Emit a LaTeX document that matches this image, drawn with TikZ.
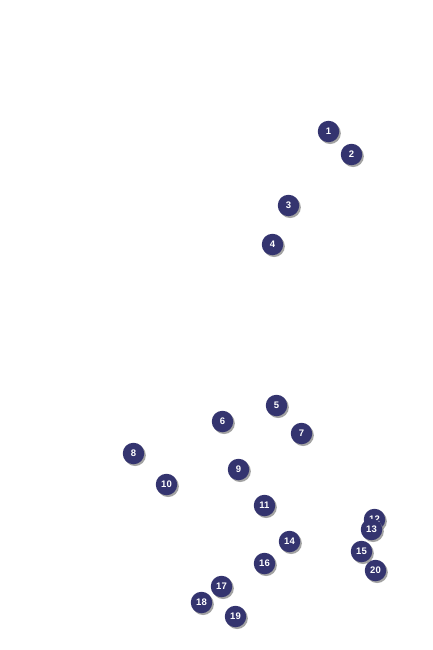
\documentclass[tikz,border=0pt]{standalone}
\usepackage{fontspec}
\setmainfont{Liberation Sans}
\usetikzlibrary{shadows}
\definecolor{badgeblue}{HTML}{34346F}
\begin{document}
\begin{tikzpicture}[x=1pt,y=-1pt,badge/.style={circle,fill=badgeblue,draw=none,minimum size=21.5pt,inner sep=0pt,text=white,font=\fontsize{9.5}{11}\selectfont\bfseries,drop shadow={shadow xshift=1.6pt,shadow yshift=-1.8pt,fill=black!45,opacity=0.8}}]
\useasboundingbox[fill=white] (0,0) rectangle (433,650);
\node[badge] (n1) at (328.5,131.5) {1};
\node[badge] (n2) at (351.5,154.5) {2};
\node[badge] (n3) at (288.5,205.5) {3};
\node[badge] (n4) at (272.5,244.5) {4};
\node[badge] (n5) at (276.5,405.5) {5};
\node[badge] (n6) at (222.5,421.5) {6};
\node[badge] (n7) at (301.5,433.5) {7};
\node[badge] (n8) at (133.5,453.5) {8};
\node[badge] (n9) at (238.5,469.5) {9};
\node[badge] (n10) at (166.5,484.5) {10};
\node[badge] (n11) at (264.5,505.5) {11};
\node[badge] (n12) at (374.5,519.5) {12};
\node[badge] (n13) at (371.5,529.5) {13};
\node[badge] (n14) at (289.5,541.5) {14};
\node[badge] (n15) at (361.5,551.5) {15};
\node[badge] (n16) at (264.5,563.5) {16};
\node[badge] (n17) at (221.5,586.5) {17};
\node[badge] (n18) at (201.5,602.5) {18};
\node[badge] (n19) at (235.5,616.5) {19};
\node[badge] (n20) at (375.5,570.5) {20};
\end{tikzpicture}
\end{document}
